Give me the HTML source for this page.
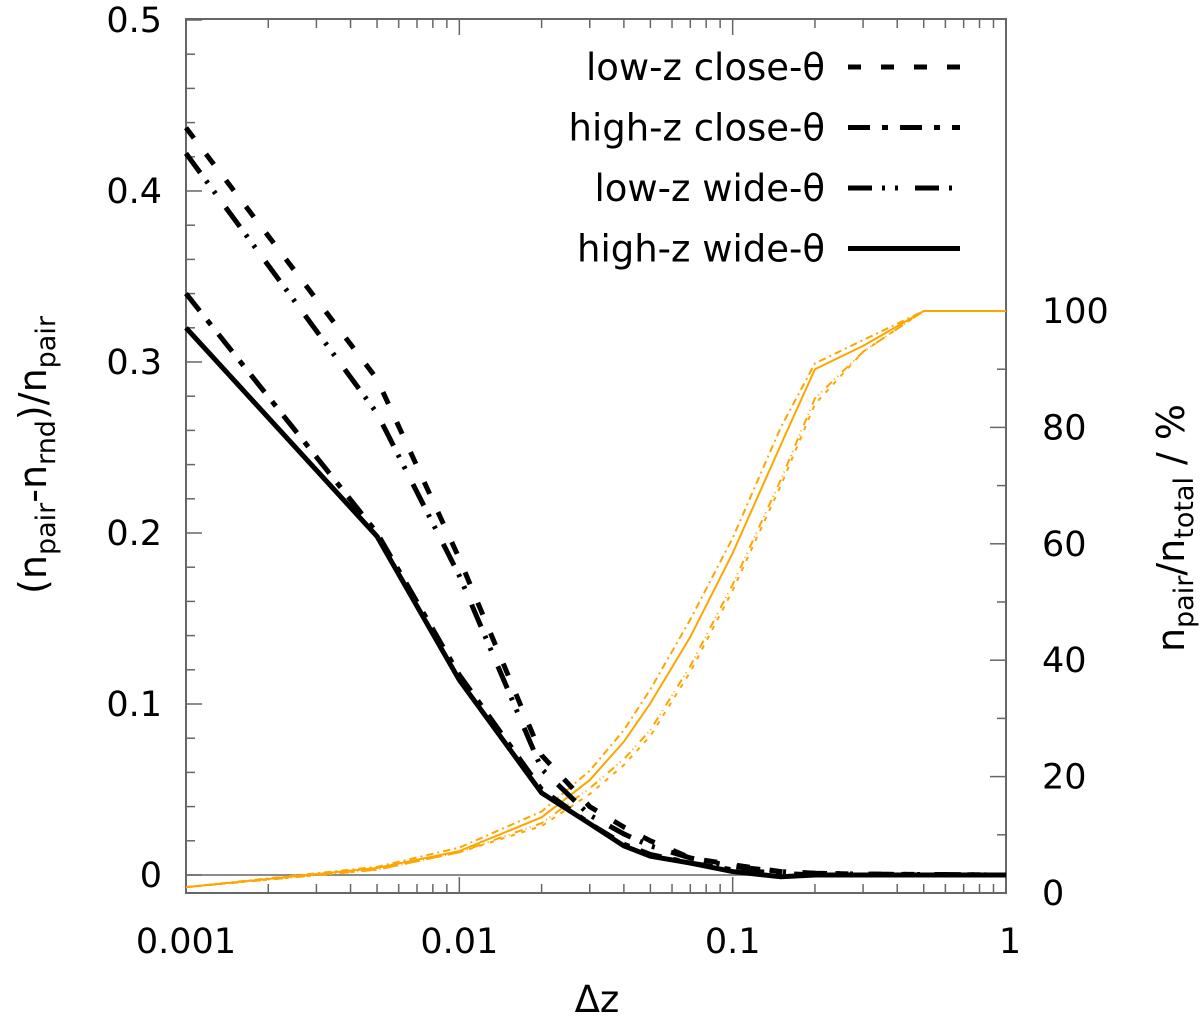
<!DOCTYPE html>
<html><head><meta charset="utf-8"><style>
body{margin:0;background:#fff}
svg text{font-family:"DejaVu Sans","Liberation Sans",sans-serif;fill:#000}
</style></head><body>
<svg id="chart" width="1200" height="1018" xmlns="http://www.w3.org/2000/svg">
<g id="grid"></g>
<g id="series"></g>
<g id="legend"></g>
<g id="labels"></g>
</svg>
<script>
const xs = [0.001,0.005,0.01,0.02,0.03,0.04,0.05,0.07,0.1,0.15,0.2,0.3,0.5,0.7,1];
const lowClose  = [0.437,0.29,0.185,0.07,0.04,0.028,0.02,0.01,0.006,0.002,0.001,0.0005,0.0003,0.0002,0];
const highClose = [0.340,0.200,0.117,0.05,0.03,0.018,0.012,0.007,0.003,0.001,0,0,0,0,0];
const lowWide   = [0.422,0.27,0.175,0.062,0.035,0.024,0.017,0.01,0.005,0.002,0.001,0.0005,0.0003,0.0002,0];
const highWide  = [0.320,0.198,0.114,0.048,0.03,0.017,0.011,0.007,0.002,-0.001,0,0,0,0,0];
const cumLowClose  = [1,4,7,11.5,17,22,27,38,52,70,84,93,100,100,100];
const cumHighClose = [1,4.5,7.8,14,21,28,35,47,61,80,91,95,100,100,100];
const cumLowWide   = [1,4,7,12,18,23,28,39,53,71,85,93,100,100,100];
const cumHighWide  = [1,4.3,7.2,13,19.4,26,32.6,44,58.4,77,90,94,100,100,100];
const leftTicks = [0,0.1,0.2,0.3,0.4,0.5];
const rightTicks = [0,20,40,60,80,100];
const xTicks = [0.001,0.01,0.1,1];
const legendLabels = ["low-z close-θ","high-z close-θ","low-z wide-θ","high-z wide-θ"];

const L=186,R=1006,T=19,B=893;
const X=v=>L+(Math.log10(v)+3)/3*(R-L);
const Y=v=>875-v*1710;
const Y2=v=>B-v*5.82;
const NS="http://www.w3.org/2000/svg";
function mk(tag,attrs,parent){const e=document.createElementNS(NS,tag);for(const k in attrs)e.setAttribute(k,attrs[k]);parent.appendChild(e);return e;}
const grid=document.getElementById('grid'),ser=document.getElementById('series'),leg=document.getElementById('legend'),lab=document.getElementById('labels');
const axc="#666";
let z=mk('line',{x1:L,x2:R,y1:Y(0),y2:Y(0),stroke:axc,'stroke-width':1.5},grid);


let fr=mk('rect',{x:L,y:T,width:R-L,height:B-T,fill:'none',stroke:axc,'stroke-width':2},grid);


for(let d=-3;d<0;d++){for(let m=1;m<10;m++){const v=m*Math.pow(10,d);const x=X(v);const len=m==1?16:9;
mk('line',{x1:x,x2:x,y1:B,y2:B-len,stroke:axc,'stroke-width':1.5},grid);
mk('line',{x1:x,x2:x,y1:T,y2:T+len,stroke:axc,'stroke-width':1.5},grid);}}
xTicks.forEach(v=>{const t=mk('text',{x:X(v)+(v==1?4:0),y:953,'font-size':35,'text-anchor':'middle'},lab);t.textContent=String(v);

});
for(let i=0;i<=25;i++){const v=i*0.02;const y=Y(v);if(y<T)continue;const len=i%5==0?16:9;
mk('line',{x1:L,x2:L+len,y1:y,y2:y,stroke:axc,'stroke-width':1.5},grid);}
leftTicks.forEach(v=>{const t=mk('text',{x:162,y:Y(v)+12,'font-size':35,'text-anchor':'end'},lab);t.textContent=String(v);

});
for(let i=0;i<=10;i++){const v=i*10;const y=Y2(v);const len=i%2==0?16:9;
mk('line',{x1:R,x2:R-len,y1:y,y2:y,stroke:axc,'stroke-width':1.5},grid);}
rightTicks.forEach(v=>{const t=mk('text',{x:1042,y:Y2(v)+12,'font-size':35,'text-anchor':'start'},lab);t.textContent=String(v);

});
let xt=mk('text',{x:597,y:1012,'font-size':37,'text-anchor':'middle'},lab);xt.textContent='Δz';


let yl=mk('text',{transform:'translate(46,455) rotate(-90)','font-size':38,'text-anchor':'middle'},lab);
yl.innerHTML='(n<tspan font-size="27" dy="9">pair</tspan><tspan dy="-9">-n</tspan><tspan font-size="27" dy="9">rnd</tspan><tspan dy="-9">)/n</tspan><tspan font-size="27" dy="9">pair</tspan>';


let yr=mk('text',{transform:'translate(1184,528) rotate(-90)','font-size':38,'text-anchor':'middle'},lab);
yr.innerHTML='n<tspan font-size="27" dy="9">pair</tspan><tspan dy="-9">/n</tspan><tspan font-size="27" dy="9">total</tspan><tspan dy="-9"> / %</tspan>';



const dashes=["13 20","22 12 6 12","24 10 3 10 3 17",""];
const blk=[lowClose,highClose,lowWide,highWide];
const org=[cumLowClose,cumHighClose,cumLowWide,cumHighWide];
const names=["low-z-close","high-z-close","low-z-wide","high-z-wide"];
org.forEach((s,i)=>{const p=mk('polyline',{points:xs.map((x,j)=>X(x)+','+Y2(s[j])).join(' '),fill:'none',stroke:'#ffa500','stroke-width':2,'stroke-dasharray':dashes[i].split(' ').filter(n=>n).map(n=>n/3).join(' ')},ser);

});
blk.forEach((s,i)=>{const p=mk('polyline',{points:xs.map((x,j)=>X(x)+','+Y(s[j])).join(' '),fill:'none',stroke:'#000','stroke-width':5,'stroke-dasharray':dashes[i]},ser);

});
legendLabels.forEach((t,i)=>{const y=67+i*60.5;
const tx=mk('text',{x:825,y:y+13,'font-size':37,'text-anchor':'end'},leg);tx.textContent=t;


const ln=mk('line',{x1:848,x2:960,y1:y,y2:y,stroke:'#000','stroke-width':5,'stroke-dasharray':dashes[i]},leg);

});
</script>
</body></html>
